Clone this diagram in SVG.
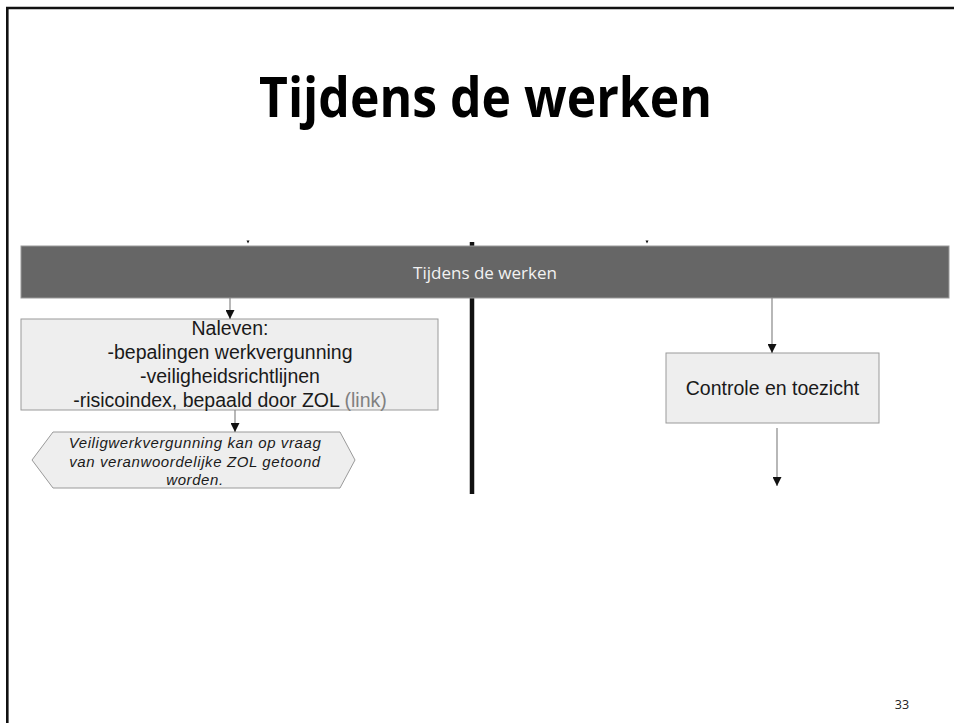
<svg xmlns="http://www.w3.org/2000/svg" width="954" height="723" viewBox="0 0 954 723">
<defs>
<style>
.node rect,.node polygon{fill:#eeeeee;stroke:#9a9a9a;stroke-width:1}
.lbl{font-family:"Liberation Sans",Arial,sans-serif;font-size:19.5px;fill:#1a1a1a;text-anchor:middle}
.it{font-family:"Liberation Sans",Arial,sans-serif;font-size:15px;font-style:italic;letter-spacing:0.6px;fill:#1a1a1a;text-anchor:middle}
.conn line{stroke:#888888;stroke-width:1.2;fill:none}
.arr{marker-end:url(#ah)}
</style>
<marker id="ah" markerUnits="userSpaceOnUse" markerWidth="9" markerHeight="9" refX="9" refY="4.5" orient="auto">
<path d="M0,0 L9,4.5 L0,9 z" fill="#111111"/>
</marker>
</defs>
<rect x="0" y="0" width="954" height="723" fill="#ffffff"/>
<path d="M7.3,723 V8 H954" fill="none" stroke="#111111" stroke-width="2.6"/>
<text x="485.5" y="117" font-family="'Open Sans',sans-serif" font-weight="700" font-size="56" text-anchor="middle" textLength="453" lengthAdjust="spacingAndGlyphs" fill="#000000">Tijdens de werken</text>
<g id="lane-divider">
<line x1="472" y1="242" x2="472" y2="494" stroke="#111111" stroke-width="4.5"/>
</g>
<g id="banner">
<rect x="21" y="246" width="928" height="52" fill="#666666" stroke="#9a9a9a" stroke-width="1"/>
<text x="485" y="279" font-family="'Open Sans',sans-serif" font-size="16.5" text-anchor="middle" textLength="144" lengthAdjust="spacingAndGlyphs" fill="#f2f2f2">Tijdens de werken</text>
</g>
<g id="naleven" class="node">
<rect x="21" y="319" width="417" height="91"/>
<text class="lbl" x="230" y="335">Naleven:</text>
<text class="lbl" x="230" y="359">-bepalingen werkvergunning</text>
<text class="lbl" x="230" y="383">-veiligheidsrichtlijnen</text>
<text class="lbl" x="230" y="407">-risicoindex, bepaald door ZOL <tspan fill="#808080">(link)</tspan></text>
</g>
<g id="vergunning" class="node">
<polygon points="53,432 340,432 355,460 340,488 53,488 32,460"/>
<text class="it" x="195" y="448">Veiligwerkvergunning kan op vraag</text>
<text class="it" x="195" y="467">van veranwoordelijke ZOL getoond</text>
<text class="it" x="195" y="485">worden.</text>
</g>
<g id="controle" class="node">
<rect x="666" y="353" width="213" height="70"/>
<text class="lbl" x="772.5" y="395">Controle en toezicht</text>
</g>
<g id="connectors" class="conn">
<line class="arr" x1="230" y1="298" x2="230" y2="319"/>
<line class="arr" x1="235" y1="410" x2="235" y2="432"/>
<line class="arr" x1="772" y1="298" x2="772" y2="353"/>
<line class="arr" x1="777" y1="428" x2="777" y2="486"/>
<path d="M246.5,240.5 L249.5,240.5 L248,243.5 z" fill="#111111"/>
<path d="M645.5,240.5 L648.5,240.5 L647,243.5 z" fill="#111111"/>
</g>
<text x="902" y="709" font-family="'Open Sans',sans-serif" font-size="12.5" text-anchor="middle" fill="#222222">33</text>
</svg>
